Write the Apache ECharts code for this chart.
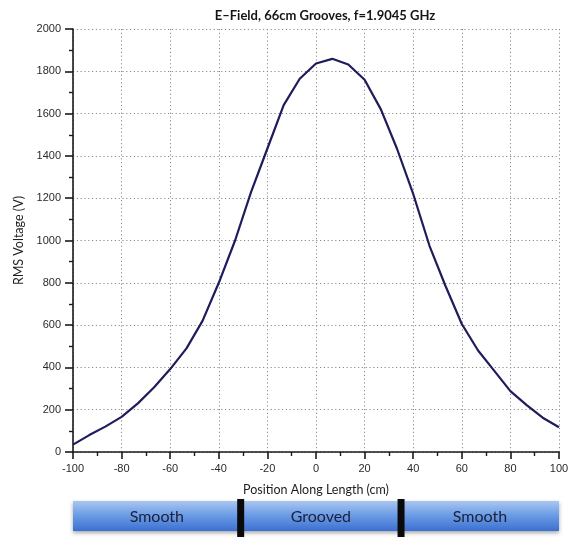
<!DOCTYPE html>
<html>
<head>
<meta charset="utf-8">
<script src="https://cdn.jsdelivr.net/npm/echarts@6/dist/echarts.min.js"></script>
<style>
  html, body { margin: 0; padding: 0; background: #ffffff; }
  #chart { width: 579px; height: 538px; }
</style>
</head>
<body>
<div id="chart"></div>
<script>
// Position along the structure (cm) and RMS voltage (V) at each sample
const positions = [-100, -93.3, -86.7, -80, -73.3, -66.7, -60, -53.3, -46.7, -40,
  -33.3, -26.7, -20, -13.3, -6.7, 0, 6.7, 13.3, 20, 26.7,
  33.3, 40, 46.7, 53.3, 60, 66.7, 73.3, 80, 86.7, 93.3, 100];
const rmsVoltage = [35, 80, 120, 166, 230, 305, 392, 490, 620, 800,
  1000, 1230, 1435, 1640, 1765, 1837, 1859, 1832, 1760, 1620,
  1435, 1220, 975, 785, 605, 480, 385, 288, 222, 162, 117];

// Surface sections drawn under the plot
const sectionNames = ['Smooth', 'Grooved', 'Smooth'];
const sectionStarts = [-100, -31, 35];
const sectionEnds = [-31, 35, 100];
const sectionBoundaries = [-31, 35];

const xTicks = { min: -100, max: 100, step: 20 };
const yTicks = { min: 0, max: 2000, step: 200 };

const chart = echarts.init(document.getElementById('chart'), null, { renderer: 'canvas' });

const gridLine = { show: true, lineStyle: { color: '#8a8a8a', width: 1, type: [1.2, 2.6] } };
const axisLineStyle = { show: true, onZero: false, lineStyle: { color: '#1a1a1a', width: 1.6 } };
const labelStyle = {
  color: '#2a2a2a', fontSize: 11, fontFamily: 'Liberation Sans, Arial, sans-serif',
  formatter: v => String(v)
};

chart.setOption({
  animation: false,
  backgroundColor: '#ffffff',
  title: {
    text: 'E\u2013Field, 66cm Grooves, f=1.9045 GHz',
    left: 320,
    top: 4,
    textAlign: 'center',
    textStyle: { fontSize: 13, fontWeight: 'bold', color: '#151515', fontFamily: 'Lato, DejaVu Sans, sans-serif' }
  },
  grid: [
    { left: 73, top: 29, width: 486, height: 423 },
    { left: 73, top: 501, width: 486, height: 30 }
  ],
  xAxis: [
    {
      type: 'value', gridIndex: 0,
      min: xTicks.min, max: xTicks.max, interval: xTicks.step,
      name: 'Position Along Length (cm)', nameLocation: 'middle', nameGap: 31,
      nameTextStyle: { fontSize: 12.5, color: '#1e1e1e', fontFamily: 'Lato, Liberation Sans, sans-serif' },
      axisLine: axisLineStyle,
      axisTick: { show: true, inside: false, length: 7, lineStyle: { color: '#1a1a1a', width: 1.6 } },
      minorTick: { show: true, splitNumber: 2, length: 4, lineStyle: { color: '#1a1a1a', width: 1.4 } },
      axisLabel: Object.assign({ margin: 11 }, labelStyle),
      splitLine: gridLine
    },
    {
      type: 'value', gridIndex: 1, min: xTicks.min, max: xTicks.max,
      show: false
    }
  ],
  yAxis: [
    {
      type: 'value', gridIndex: 0,
      min: yTicks.min, max: yTicks.max, interval: yTicks.step,
      name: 'RMS Voltage (V)', nameLocation: 'middle', nameGap: 41, nameRotate: 90,
      nameTextStyle: { fontSize: 12.5, color: '#1e1e1e', fontFamily: 'Lato, Liberation Sans, sans-serif' },
      axisLine: axisLineStyle,
      axisTick: { show: true, inside: false, length: 8, lineStyle: { color: '#1a1a1a', width: 1.6 } },
      minorTick: { show: true, splitNumber: 2, length: 4, lineStyle: { color: '#1a1a1a', width: 1.4 } },
      axisLabel: Object.assign({ margin: 12 }, labelStyle),
      splitLine: gridLine
    },
    {
      type: 'value', gridIndex: 1, min: 0, max: 1, show: false
    }
  ],
  series: [
    {
      type: 'line',
      xAxisIndex: 0, yAxisIndex: 0,
      data: positions.map((p, i) => [p, rmsVoltage[i]]),
      showSymbol: false,
      smooth: false,
      lineStyle: { color: '#1f1c5c', width: 2.2 },
      z: 5
    },
    {
      // surface section bars
      type: 'custom',
      xAxisIndex: 1, yAxisIndex: 1,
      data: sectionNames.map((n, i) => [sectionStarts[i], sectionEnds[i], n]),
      renderItem: function (params, api) {
        const p0 = api.coord([api.value(0), 1]);
        const p1 = api.coord([api.value(1), 0]);
        const name = sectionNames[params.dataIndex];
        return {
          type: 'group',
          children: [
            {
              type: 'rect',
              shape: { x: p0[0], y: p0[1], width: p1[0] - p0[0], height: p1[1] - p0[1] },
              style: {
                fill: new echarts.graphic.LinearGradient(0, 0, 0, 1, [
                  { offset: 0, color: '#a9c6f1' },
                  { offset: 0.45, color: '#6e9ee6' },
                  { offset: 1, color: '#3c70d0' }
                ]),
                shadowBlur: 4, shadowColor: 'rgba(0,0,0,0.35)', shadowOffsetY: 2
              }
            },
            {
              type: 'text',
              style: {
                text: name,
                x: (p0[0] + p1[0]) / 2, y: (p0[1] + p1[1]) / 2 + 1,
                align: 'center', verticalAlign: 'middle',
                fontSize: 16, fontFamily: 'Lato, Liberation Sans, sans-serif',
                fill: '#1b1f3a'
              }
            }
          ]
        };
      },
      z: 2
    },
    {
      // section boundary markers
      type: 'custom',
      xAxisIndex: 1, yAxisIndex: 1,
      data: sectionBoundaries.map(b => [b]),
      renderItem: function (params, api) {
        const top = api.coord([api.value(0), 1]);
        const bot = api.coord([api.value(0), 0]);
        return {
          type: 'rect',
          shape: { x: top[0] - 3.5, y: top[1] - 2, width: 7, height: bot[1] - top[1] + 8 },
          style: { fill: '#0a0a0a' }
        };
      },
      z: 3
    }
  ]
});
</script>
</body>
</html>
